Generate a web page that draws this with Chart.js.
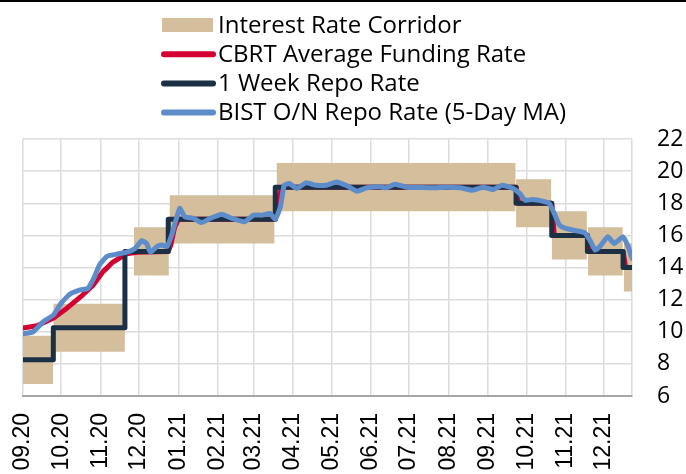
<!DOCTYPE html>
<html>

<head>
    <meta charset="utf-8">
    <title>Policy Rates</title>
    <script src="https://cdn.jsdelivr.net/npm/chart.js"></script>
    <style>
        body {
            margin: 0;
            background: #fff;
        }

        #wrap {
            position: relative;
            width: 686px;
            height: 474px;
        }

        #topRule {
            position: absolute;
            left: 0;
            top: 0;
            width: 686px;
            height: 2px;
            background: #000;
        }
    </style>
</head>

<body>
    <div id="wrap">
        <canvas id="myChart" width="686" height="474"></canvas>
        <div id="topRule"></div>
    </div>

    <script>
        // x values are days counted from 1 Sep 2020
        var tickDays = [0, 30, 61, 91, 122, 153, 181, 212, 242, 273, 303, 334, 365, 395, 426, 456, 478];
        var tickLabels = ['09.20', '10.20', '11.20', '12.20', '01.21', '02.21', '03.21', '04.21', '05.21',
            '06.21', '07.21', '08.21', '09.21', '10.21', '11.21', '12.21', ''];

        // interest rate corridor (borrowing / lending)
        var corridorStart = [0, 23.8, 87, 115, 199, 387, 415, 443.5, 471.5];
        var corridorEnd = [23.8, 80, 114.5, 197.5, 386.7, 414.7, 442.6, 470.8, 478];
        var corridorLow = [6.75, 8.75, 13.5, 15.5, 17.5, 16.5, 14.5, 13.5, 12.5];
        var corridorHigh = [9.75, 11.75, 16.5, 18.5, 20.5, 19.5, 17.5, 16.5, 15.5];

        // 1 week repo rate (value holds from the given day)
        var repoDays = [0, 23.8, 80, 114, 198, 387, 415, 443, 471, 478];
        var repoRate = [8.25, 10.25, 15, 17, 19, 18, 16, 15, 14, 14];

        // CBRT average funding rate
        var fundDays = [0, 11, 24, 35, 47, 55, 63, 70, 76, 81, 90, 114, 116, 119, 122, 198, 200, 203, 387, 389, 415, 417, 443, 445, 471, 473, 478];
        var fundRate = [10.23, 10.37, 10.86, 11.5, 12.3, 12.9, 13.76, 14.3, 14.6, 14.85, 14.95, 15.0, 15.4, 16.5, 17.0, 17.0, 18.0, 19.0, 19.0, 18.0, 18.0, 16.0, 16.0, 15.0, 15.0, 14.0, 14.0];

        // BIST O/N repo rate, 5-day moving average
        var bistDays = [0, 8, 16, 24, 30, 37, 45, 51, 56, 60, 66, 73, 81, 88, 93, 97, 100, 105, 109, 113, 117, 123, 127, 134,
            140, 147, 156, 164, 174, 181, 188, 194, 198, 202, 205, 209, 215, 222, 230, 238, 246, 254, 262, 270, 280, 285,
            292, 301, 311, 322, 332, 343, 353, 361, 369, 376, 384, 390, 394, 400, 407, 413, 417, 421, 426, 434, 441, 445,
            449, 453, 459, 464, 471, 475, 478];
        var bistRate = [9.87, 10.0, 10.63, 11.05, 11.78, 12.35, 12.6, 12.7, 13.4, 14.15, 14.7, 14.82, 14.94, 15.19, 15.66, 15.5,
            14.94, 15.3, 15.4, 15.3, 16.1, 17.68, 17.16, 17.06, 16.8, 17.06, 17.32, 17.06, 16.85, 17.26, 17.26, 17.37, 17.0,
            17.78, 19.12, 19.23, 18.92, 19.27, 19.12, 19.12, 19.33, 19.1, 18.75, 18.96, 19.02, 18.96, 19.19, 19.0, 18.98,
            18.96, 19.0, 18.96, 18.81, 19.0, 18.86, 19.12, 18.95, 18.6, 18.19, 18.23, 18.15, 17.99, 17.37, 16.64, 16.43,
            16.29, 16.16, 15.7, 15.09, 15.33, 15.91, 15.5, 15.91, 15.3, 14.57];

        var tan = '#D5BE9C';
        var red = '#D50032';
        var navy = '#1B2F45';
        var blue = '#5C8CCA';

        function pairs(xs, ys) {
            return xs.map(function (x, i) { return { x: x, y: ys[i] }; });
        }

        // each corridor block as its own piece, broken by a null point
        function corridorPoints(vals) {
            var pts = [];
            corridorStart.forEach(function (s, i) {
                pts.push({ x: s, y: vals[i] });
                pts.push({ x: corridorEnd[i], y: vals[i] });
                if (i < corridorStart.length - 1) {
                    pts.push({ x: corridorEnd[i], y: null });
                }
            });
            return pts;
        }

        var legendItems = [
            { label: 'Interest Rate Corridor', color: tan, box: true },
            { label: 'CBRT Average Funding Rate', color: red },
            { label: '1 Week Repo Rate', color: navy },
            { label: 'BIST O/N Repo Rate (5-Day MA)', color: blue }
        ];

        // legend stacked in one column above the plot
        var stackLegend = {
            id: 'stackLegend',
            afterDraw: function (chart) {
                var ctx = chart.ctx;
                ctx.save();
                ctx.font = '24px "Open Sans"';
                ctx.textBaseline = 'alphabetic';
                legendItems.forEach(function (item, i) {
                    var mid = 25 + i * 29.2;
                    if (item.box) {
                        ctx.fillStyle = item.color;
                        ctx.fillRect(162, mid - 7, 51, 14);
                    } else {
                        ctx.strokeStyle = item.color;
                        ctx.lineWidth = 6;
                        ctx.lineCap = 'round';
                        ctx.beginPath();
                        ctx.moveTo(164, mid);
                        ctx.lineTo(213, mid);
                        ctx.stroke();
                    }
                    ctx.fillStyle = '#000';
                    ctx.fillText(item.label, 218, mid + 7.5);
                });
                ctx.restore();
            }
        };

        var ctx = document.getElementById('myChart').getContext('2d');
        var chart = new Chart(ctx, {
            type: 'line',
            data: {
                datasets: [
                    {
                        label: 'Corridor low',
                        data: corridorPoints(corridorLow),
                        borderWidth: 0,
                        borderColor: 'rgba(0,0,0,0)',
                        fill: false,
                        order: 10
                    },
                    {
                        label: 'Interest Rate Corridor',
                        data: corridorPoints(corridorHigh),
                        borderWidth: 0,
                        borderColor: 'rgba(0,0,0,0)',
                        backgroundColor: tan,
                        fill: '-1',
                        order: 9
                    },
                    {
                        label: 'CBRT Average Funding Rate',
                        data: pairs(fundDays, fundRate),
                        borderColor: red,
                        borderWidth: 5,
                        fill: false,
                        order: 3
                    },
                    {
                        label: '1 Week Repo Rate',
                        data: pairs(repoDays, repoRate),
                        borderColor: navy,
                        borderWidth: 5,
                        stepped: true,
                        fill: false,
                        order: 2
                    },
                    {
                        label: 'BIST O/N Repo Rate (5-Day MA)',
                        data: pairs(bistDays, bistRate),
                        borderColor: blue,
                        borderWidth: 5,
                        tension: 0.15,
                        fill: false,
                        order: 1
                    }
                ]
            },
            options: {
                responsive: false,
                animation: false,
                layout: {
                    padding: { top: 139, left: 23, right: 3, bottom: 3 }
                },
                elements: {
                    point: { radius: 0 },
                    line: { borderJoinStyle: 'round', borderCapStyle: 'round' }
                },
                plugins: {
                    legend: { display: false },
                    tooltip: { enabled: false },
                    filler: { drawTime: 'beforeDatasetsDraw' }
                },
                scales: {
                    x: {
                        type: 'linear',
                        min: 0,
                        max: 478,
                        afterBuildTicks: function (axis) {
                            axis.ticks = tickDays.map(function (d) { return { value: d }; });
                        },
                        afterFit: function (axis) {
                            axis.height = 75;
                        },
                        ticks: {
                            autoSkip: false,
                            minRotation: 90,
                            maxRotation: 90,
                            padding: 17,
                            color: '#000',
                            font: { family: '"Liberation Sans", Arial', size: 23 },
                            callback: function (value, index) {
                                return tickLabels[index];
                            }
                        },
                        grid: { color: '#dcdcdc', lineWidth: 1.5, drawTicks: false },
                        border: { color: '#a6a6a6', width: 2 }
                    },
                    y: {
                        position: 'right',
                        min: 6,
                        max: 22,
                        afterFit: function (axis) {
                            axis.width = 51;
                        },
                        ticks: {
                            stepSize: 2,
                            autoSkip: false,
                            padding: 25,
                            color: '#000',
                            font: { family: '"Open Sans"', size: 23 }
                        },
                        grid: { color: '#dcdcdc', lineWidth: 1.5, drawTicks: false },
                        border: { display: false }
                    }
                }
            },
            plugins: [stackLegend]
        });
    </script>
</body>

</html>
